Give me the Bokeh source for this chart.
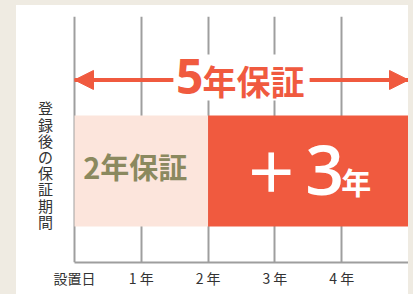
from bokeh.plotting import figure
from bokeh.models import Range1d, FixedTicker, Arrow, NormalHead, Spacer
from bokeh.layouts import row, column
from bokeh.core.properties import value
from bokeh.embed import file_html
from bokeh.resources import INLINE

# ---- data ----
tick_years = [0, 1, 2, 3, 4]
tick_labels = ["設置日", "1 年", "2 年", "3 年", "4 年"]
segment_start = [0, 2]
segment_end = [2, 5]
total_years = 5
base_label = "2年保証"
extra_plus = "＋"
extra_num = "3"
extra_unit = "年"
total_num = "5"
total_unit = "年保証"
y_label = "登録後の保証期間"

# ---- style ----
RED = "#F05A3F"
PINK = "#FCE5DC"
OLIVE = "#8B895F"
BEIGE = "#EFEBE2"
GRID = "#9E9E9E"
TXT = "#333333"
JP = "Noto Sans CJK JP"
LAT = "Noto Sans"
SEMI = "Open Sans SemiBold, Noto Sans"

LEFT_EXT = -0.868          # room for the vertical label inside the frame
BAR_B, BAR_T = 1.46, 5.98
ARROW_Y = 7.42
BOX_B, BOX_T = 6.59, 8.46

W, H = 392, 289
p = figure(width=W, height=H, output_backend="svg", toolbar_location=None,
           x_range=Range1d(LEFT_EXT, total_years), y_range=Range1d(0, 10),
           y_axis_location=None, min_border=0,
           min_border_left=0, min_border_right=0, min_border_top=11, min_border_bottom=32)
p.outline_line_color = None
p.background_fill_color = "white"
p.border_fill_color = "white"
p.ygrid.visible = False
p.xgrid.ticker = FixedTicker(ticks=tick_years)
p.xgrid.grid_line_color = GRID
p.xgrid.grid_line_width = 2

ax = p.xaxis[0]
ax.ticker = FixedTicker(ticks=tick_years)
ax.bounds = (0, total_years)
ax.major_label_overrides = {t: l for t, l in zip(tick_years, tick_labels)}
ax.axis_line_color = GRID
ax.axis_line_width = 2
ax.major_tick_line_color = None
ax.minor_tick_line_color = None
ax.major_tick_out = 0
ax.major_tick_in = 0
ax.major_label_standoff = 5
ax.major_label_text_font = JP
ax.major_label_text_font_size = "14px"
ax.major_label_text_color = TXT

# bars
p.quad(left=segment_start, right=segment_end, bottom=BAR_B, top=BAR_T,
       fill_color=[PINK, RED], line_color=None)

# arrow line + white box behind total label
p.segment(x0=[0], x1=[total_years], y0=[ARROW_Y], y1=[ARROW_Y], line_color=RED, line_width=4)
mid = total_years / 2
p.quad(left=[mid - 1.02], right=[mid + 1.02], bottom=[BOX_B], top=[BOX_T],
       fill_color="white", line_color=None)
p.add_layout(Arrow(start=NormalHead(size=19, fill_color=RED, line_color=RED),
                   end=NormalHead(size=19, fill_color=RED, line_color=RED),
                   x_start=0, x_end=total_years, y_start=ARROW_Y, y_end=ARROW_Y,
                   line_alpha=0))

# total label "5年保証"
p.text(x=[mid], y=[7.56], text=[total_num], x_offset=-38, text_align="right",
       text_baseline="middle", text_font=value(LAT), text_font_style="bold",
       text_font_size="48px", text_color=RED)
p.text(x=[mid], y=[7.40], text=[total_unit], x_offset=-39, text_align="left",
       text_baseline="middle", text_font=value(JP), text_font_style="bold",
       text_font_size="34px", text_color=RED)

# base label
c0 = (segment_start[0] + segment_end[0]) / 2
p.text(x=[c0], y=[3.94], text=[base_label], x_offset=-6, text_align="center",
       text_baseline="middle", text_font=value(JP), text_font_style="bold",
       text_font_size="29px", text_color=OLIVE)

# extension label
c1 = (segment_start[1] + segment_end[1]) / 2
p.text(x=[c1], y=[3.80], text=[extra_plus], x_offset=-37, text_align="center",
       text_baseline="middle", text_font=value(JP), text_font_style="bold",
       text_font_size="54px", text_color="white")
p.text(x=[c1], y=[3.74], text=[extra_num], x_offset=-3, text_align="left",
       text_baseline="middle", text_font=value(SEMI), text_font_style="normal",
       text_font_size="68px", text_color="white")
p.text(x=[c1], y=[3.33], text=[extra_unit], x_offset=33, text_align="left",
       text_baseline="middle", text_font=value(JP), text_font_style="bold",
       text_font_size="30px", text_color="white")

# vertical y label (stacked characters)
p.text(x=[LEFT_EXT / 2], y=[3.98], text=["\n".join(y_label)], text_align="center",
       text_baseline="middle", text_font=value(JP), text_font_size="15px",
       text_line_height=0.77, text_color=TXT)

top_pad = Spacer(width=413, height=5, styles={"background-color": BEIGE})
left_pad = Spacer(width=16, height=H, styles={"background-color": BEIGE})
right_pad = Spacer(width=5, height=H, styles={"background-color": BEIGE})
layout = column(top_pad, row(left_pad, p, right_pad, spacing=0), spacing=0)

open("out.html", "w").write(file_html(layout, INLINE))
